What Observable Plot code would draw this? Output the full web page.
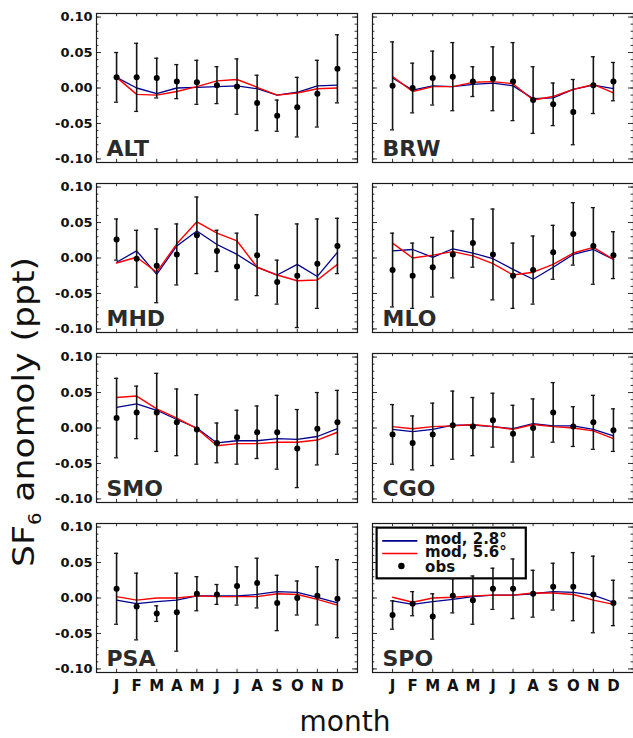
<!DOCTYPE html>
<html><head><meta charset="utf-8">
<script src="https://cdn.jsdelivr.net/npm/d3@7"></script>
<script src="https://cdn.jsdelivr.net/npm/@observablehq/plot@0.6"></script>
<style>
body{margin:0;background:#fff;}
#chart{width:633px;height:738px;}
</style></head><body><div id="chart"></div>
<script>
// ---------- data ----------
const stations = ["ALT","BRW","MHD","MLO","SMO","CGO","PSA","SPO"];
const months = [1,2,3,4,5,6,7,8,9,10,11,12];
const monthLabels = ["J","F","M","A","M","J","J","A","S","O","N","D"];
const yTickValues = [-0.10,-0.05,0.00,0.05,0.10];
const yMinorValues = [-0.10,-0.09,-0.08,-0.07,-0.06,-0.05,-0.04,-0.03,-0.02,-0.01,0,0.01,0.02,0.03,0.04,0.05,0.06,0.07,0.08,0.09,0.10];
const legendLabels = ["mod, 2.8°","mod, 5.6°","obs"];

// observed monthly anomaly (ppt), one row per station
const obs = [
  [0.015, 0.015, 0.014, 0.009, 0.008, 0.004, 0.002, -0.021, -0.039, -0.027, -0.008, 0.027],
  [0.003, 0.000, 0.014, 0.016, 0.009, 0.013, 0.009, -0.017, -0.023, -0.034, 0.004, 0.009],
  [0.026, -0.001, -0.011, 0.005, 0.032, 0.010, -0.012, 0.004, -0.034, -0.025, -0.008, 0.017],
  [-0.017, -0.025, -0.013, 0.005, 0.021, 0.005, -0.025, -0.017, 0.008, 0.034, 0.017, 0.004],
  [0.014, 0.022, 0.022, 0.008, -0.002, -0.021, -0.013, -0.006, -0.006, -0.029, -0.001, 0.008],
  [-0.009, -0.021, -0.009, 0.004, 0.002, 0.011, -0.008, 0.000, 0.022, 0.002, 0.008, -0.003],
  [0.013, -0.012, -0.022, -0.020, 0.006, 0.005, 0.017, 0.021, -0.007, 0.000, 0.003, -0.001],
  [-0.024, -0.008, -0.026, 0.003, -0.003, 0.013, 0.013, 0.006, 0.016, 0.016, 0.005, -0.007]
];
// error bar half-widths
const sd = [
  [0.035, 0.048, 0.028, 0.024, 0.031, 0.026, 0.039, 0.039, 0.022, 0.042, 0.047, 0.048],
  [0.062, 0.035, 0.038, 0.048, 0.021, 0.045, 0.055, 0.047, 0.030, 0.046, 0.040, 0.027],
  [0.029, 0.040, 0.052, 0.043, 0.054, 0.029, 0.047, 0.057, 0.031, 0.073, 0.063, 0.039],
  [0.052, 0.046, 0.042, 0.033, 0.034, 0.064, 0.046, 0.048, 0.038, 0.044, 0.054, 0.033],
  [0.056, 0.037, 0.055, 0.047, 0.049, 0.028, 0.038, 0.037, 0.052, 0.055, 0.051, 0.045],
  [0.042, 0.038, 0.044, 0.048, 0.041, 0.038, 0.040, 0.041, 0.042, 0.028, 0.038, 0.030],
  [0.050, 0.047, 0.011, 0.055, 0.024, 0.014, 0.027, 0.035, 0.039, 0.024, 0.041, 0.055],
  [0.020, 0.017, 0.032, 0.024, 0.034, 0.029, 0.042, 0.033, 0.033, 0.048, 0.054, 0.032]
];
// model, 2.8 degree
const mod28 = [
  [0.015, 0.000, -0.008, 0.000, 0.001, 0.002, 0.003, -0.001, -0.010, -0.006, 0.003, 0.004],
  [0.014, -0.003, 0.003, 0.002, 0.005, 0.007, 0.003, -0.015, -0.014, -0.002, 0.004, -0.001],
  [-0.006, 0.010, -0.023, 0.017, 0.038, 0.019, 0.005, -0.013, -0.024, -0.009, -0.026, 0.008],
  [0.010, 0.012, 0.001, 0.013, 0.007, -0.001, -0.016, -0.030, -0.013, 0.005, 0.012, -0.002],
  [0.029, 0.034, 0.025, 0.012, 0.000, -0.021, -0.018, -0.018, -0.015, -0.016, -0.012, -0.001],
  [-0.002, -0.005, -0.002, 0.004, 0.004, 0.002, -0.001, 0.006, 0.003, 0.003, -0.002, -0.011],
  [-0.003, -0.008, -0.005, -0.003, 0.003, 0.003, 0.003, 0.005, 0.009, 0.008, 0.001, -0.007],
  [-0.004, -0.009, -0.005, -0.002, 0.002, 0.004, 0.004, 0.006, 0.009, 0.008, 0.004, -0.006]
];
// model, 5.6 degree
const mod56 = [
  [0.015, -0.009, -0.010, -0.005, 0.002, 0.010, 0.012, 0.001, -0.010, -0.007, -0.001, 0.000],
  [0.016, -0.005, 0.002, 0.002, 0.008, 0.009, 0.006, -0.017, -0.012, -0.002, 0.005, -0.007],
  [-0.007, 0.001, -0.020, 0.020, 0.051, 0.035, 0.024, -0.013, -0.024, -0.032, -0.031, -0.009],
  [0.021, 0.000, 0.004, 0.009, 0.003, -0.008, -0.024, -0.020, -0.009, 0.007, 0.015, -0.002],
  [0.043, 0.045, 0.027, 0.014, -0.001, -0.025, -0.022, -0.022, -0.020, -0.020, -0.017, -0.006],
  [0.002, -0.001, 0.002, 0.003, 0.005, 0.002, -0.002, 0.005, 0.002, 0.000, -0.004, -0.015],
  [0.002, -0.003, 0.000, 0.000, 0.003, 0.002, 0.002, 0.002, 0.006, 0.005, -0.002, -0.010],
  [0.001, -0.006, 0.000, 0.001, 0.003, 0.004, 0.004, 0.007, 0.007, 0.005, -0.003, -0.009]
];

// ---------- tables ----------
const stationRows = stations.map((s, i) => ({station: s, col: i % 2, row: Math.floor(i / 2)}));
const rows = stationRows.flatMap((st, i) => months.map((m, j) => ({
  ...st, month: m, obs: obs[i][j], lo: obs[i][j] - sd[i][j], hi: obs[i][j] + sd[i][j],
  m28: mod28[i][j], m56: mod56[i][j]
})));

// ---------- layout ----------
const XMAX = 13, YLO = -0.105, YHI = 0.105;
const BLUE = "#000090", RED = "#ff0000";
const leg = {col: 1, row: 3, x1: 0.23, x2: 7.66, y1: 0.027, y2: 0.0985,
  lx1: 0.51, lx2: 2.26, dotX: 1.44, tx: 2.62, ys: [0.0805, 0.0627, 0.0452], tys: [0.0820, 0.0633, 0.0430]};
const legRows = legendLabels.map((label, i) => ({label, col: leg.col, row: leg.row, y: leg.ys[i], ty: leg.tys[i], i}));
const facetOpts = {fx: "col", fy: "row"};

const plot = Plot.plot({
  width: 633, height: 738,
  marginLeft: 96, marginRight: 0, marginTop: 13, marginBottom: 66,
  style: {fontFamily: "DejaVu Sans", background: "white", color: "#111"},
  x: {domain: [0, XMAX]},
  y: {domain: [YLO, YHI]},
  fx: {domain: [0, 1], paddingInner: 15 / 276, paddingOuter: 0, round: false, axis: null},
  fy: {domain: [0, 1, 2, 3], paddingInner: 21 / 170, paddingOuter: 0, round: false, axis: null},
  marks: [
    // inward ticks on all four sides
    Plot.ruleY(yMinorValues, {y: d => d, x1: 0, x2: 0.12, stroke: "#333"}),
    Plot.ruleY(yTickValues, {y: d => d, x1: 0, x2: 0.25, stroke: "#333"}),
    Plot.ruleY(yMinorValues, {y: d => d, x1: XMAX - 0.12, x2: XMAX, stroke: "#333"}),
    Plot.ruleY(yTickValues, {y: d => d, x1: XMAX - 0.25, x2: XMAX, stroke: "#333"}),
    Plot.ruleX(months, {x: d => d, y1: YHI, y2: YHI - 0.0045, stroke: "#333"}),
    Plot.ruleX(months, {x: d => d, y1: YLO, y2: YLO + 0.0045, stroke: "#333"}),
    Plot.frame({stroke: "#1a1a1a", strokeWidth: 1.2}),
    Plot.axisY({ticks: yTickValues, tickSize: 0, tickPadding: 4, tickFormat: d => d.toFixed(2),
      fontSize: 13, fontWeight: "bold", fill: "#111", label: null}),
    Plot.axisX({ticks: months, tickSize: 0, tickPadding: 8, tickFormat: m => monthLabels[m - 1],
      fontSize: 15, fontWeight: "bold", fill: "#111", label: null}),
    Plot.text(stationRows, {...facetOpts, text: "station", frameAnchor: "bottom-left", lineAnchor: "bottom",
      dx: 10, dy: -7, fontSize: 22, fontWeight: "bold", fill: "#2b2b2b"}),
    // legend (SPO panel)
    Plot.rect([stationRows[7]], {...facetOpts, x1: leg.x1, x2: leg.x2, y1: leg.y1, y2: leg.y2,
      fill: "white", stroke: "#000", strokeWidth: 2.2}),
    Plot.ruleY(legRows.filter(d => d.i < 2), {...facetOpts, y: "y", x1: leg.lx1, x2: leg.lx2,
      stroke: d => d.i === 0 ? BLUE : RED, strokeWidth: 1.6}),
    Plot.dot(legRows.filter(d => d.i === 2), {...facetOpts, x: leg.dotX, y: "y", r: 3.2, fill: "#000"}),
    Plot.text(legRows, {...facetOpts, x: leg.tx, y: "ty", text: "label", textAnchor: "start",
      fontSize: 15, fontWeight: "bold", fill: "#111", lineHeight: 0.85}),
    // model lines
    Plot.line(rows, {...facetOpts, x: "month", y: "m28", z: "station", stroke: BLUE, strokeWidth: 1.3}),
    Plot.line(rows, {...facetOpts, x: "month", y: "m56", z: "station", stroke: RED, strokeWidth: 1.4}),
    // observations with error bars
    Plot.ruleX(rows, {...facetOpts, x: "month", y1: "lo", y2: "hi", stroke: "#151515", strokeWidth: 1.6}),
    Plot.ruleY(rows, {...facetOpts, y: "lo", x1: d => d.month - 0.1, x2: d => d.month + 0.1, stroke: "#151515", strokeWidth: 1.3}),
    Plot.ruleY(rows, {...facetOpts, y: "hi", x1: d => d.month - 0.1, x2: d => d.month + 0.1, stroke: "#151515", strokeWidth: 1.3}),
    Plot.dot(rows, {...facetOpts, x: "month", y: "obs", r: 3, fill: "#000"})
  ]
});

const svg = d3.select(plot);
const yl = svg.append("text")
  .attr("transform", "translate(34,412) rotate(-90)")
  .attr("text-anchor", "middle")
  .attr("font-size", 30)
  .attr("fill", "#111")
  .attr("textLength", 310)
  .attr("lengthAdjust", "spacingAndGlyphs");
yl.append("tspan").text("SF");
yl.append("tspan").attr("font-size", 17).attr("dy", 7).text("6");
yl.append("tspan").attr("dy", -7).text(" anomoly (ppt)");
svg.append("text")
  .attr("x", 345).attr("y", 731)
  .attr("text-anchor", "middle")
  .attr("font-size", 28)
  .attr("fill", "#111")
  .text("month");

document.getElementById("chart").appendChild(plot);
</script></body></html>
